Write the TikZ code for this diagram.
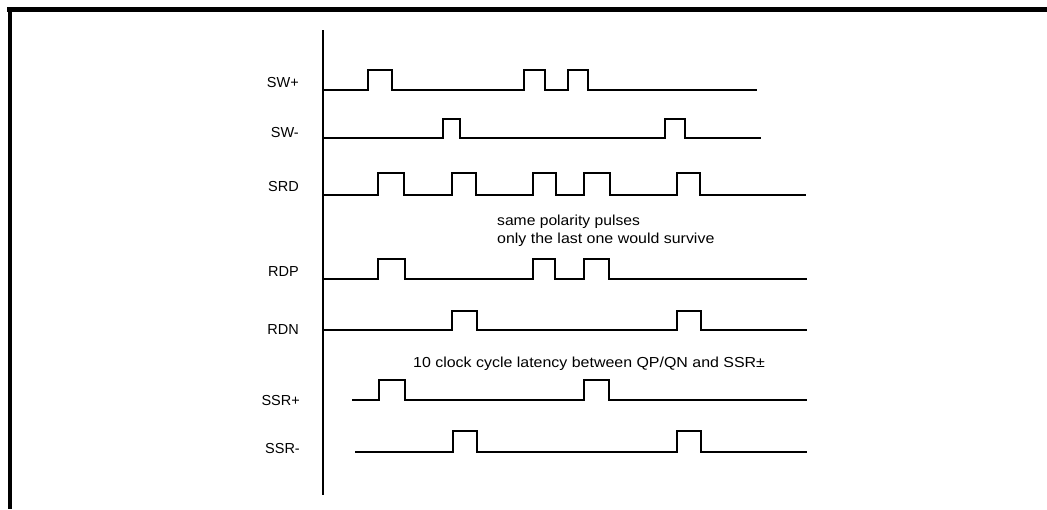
\documentclass[tikz,border=0pt]{standalone}
\usepackage{fontspec}
\setmainfont{Liberation Sans}
\begin{document}
\begin{tikzpicture}[x=1pt,y=-1pt,
  wave/.style={line width=1.8pt, line join=miter},
  axisline/.style={line width=1.8pt},
  frameline/.style={line width=4.5pt},
  lbl/.style={anchor=east, inner sep=0pt, text height=10.4pt, text depth=0pt, font=\fontsize{14.5}{17}\selectfont},
  note/.style={anchor=base west, inner sep=0pt, font=\fontsize{14.5}{17}\selectfont}]
\useasboundingbox (0,0) rectangle (1047,509);
% frame
\draw[frameline] (7,9.5) -- (1047,9.5);
\draw[frameline] (10,7) -- (10,509);
% time axis
\coordinate (axtop) at (323,30);
\coordinate (axbot) at (323,495);
\draw[axisline] (axtop) -- (axbot);
% labels
\node[lbl] (lswp) at (299,82) {SW+};
\node[lbl] (lswm) at (299,132) {SW-};
\node[lbl] (lsrd) at (299,186) {SRD};
\node[lbl] (lrdp) at (299,271) {RDP};
\node[lbl] (lrdn) at (299,329) {RDN};
\node[lbl] (lssrp) at (300,400) {SSR+};
\node[lbl] (lssrm) at (300,448) {SSR-};
% waveforms
\draw[wave] (323,90) foreach \a/\b in {368/392,524/545,568/588} { -- (\a,90) -- (\a,70) -- (\b,70) -- (\b,90) } -- (757,90);
\draw[wave] (323,138) foreach \a/\b in {443/460,665/685} { -- (\a,138) -- (\a,119) -- (\b,119) -- (\b,138) } -- (761,138);
\draw[wave] (323,195) foreach \a/\b in {378/404,452/476,533/556,584/610,677/700} { -- (\a,195) -- (\a,173) -- (\b,173) -- (\b,195) } -- (806,195);
\draw[wave] (323,279) foreach \a/\b in {378/405,533/555,584/609} { -- (\a,279) -- (\a,259) -- (\b,259) -- (\b,279) } -- (807,279);
\draw[wave] (323,330) foreach \a/\b in {452/477,677/701} { -- (\a,330) -- (\a,311) -- (\b,311) -- (\b,330) } -- (807,330);
\draw[wave] (352,400) foreach \a/\b in {379/405,584/609} { -- (\a,400) -- (\a,380) -- (\b,380) -- (\b,400) } -- (807,400);
\draw[wave] (355,452) foreach \a/\b in {453/477,677/701} { -- (\a,452) -- (\a,431) -- (\b,431) -- (\b,452) } -- (807,452);
% notes
\node[note] (n1) at (497,225) {\scalebox{1.08}[1]{same polarity pulses}};
\node[note] (n2) at (497,243.5) {\scalebox{1.1}[1]{only the last one would survive}};
\node[note] (n3) at (413,367.5) {\scalebox{1.1}[1]{10 clock cycle latency between QP/QN and SSR±}};
\end{tikzpicture}
\end{document}
